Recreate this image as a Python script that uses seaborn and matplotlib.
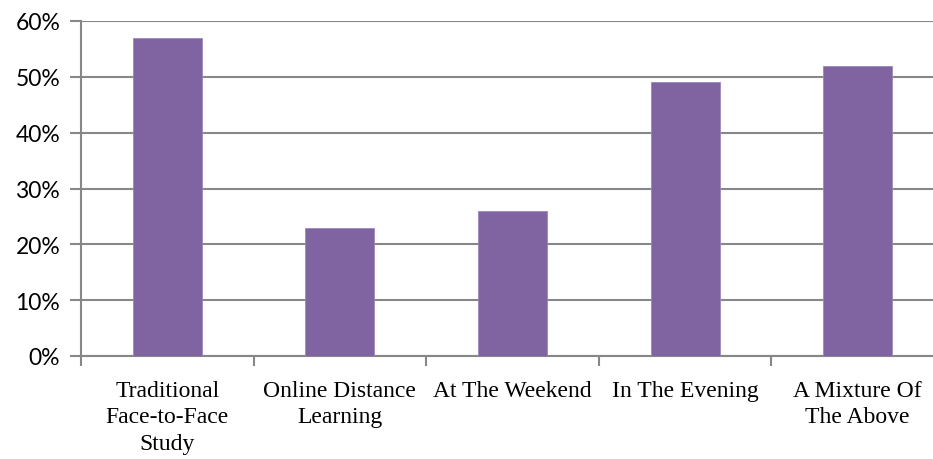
import matplotlib
matplotlib.use("Agg")
import matplotlib.pyplot as plt
import seaborn as sns
import pandas as pd
import numpy as np
from matplotlib.ticker import PercentFormatter, FixedLocator

categories = ["Traditional\nFace-to-Face\nStudy", "Online Distance\nLearning",
              "At The Weekend", "In The Evening", "A Mixture Of\nThe Above"]
values = [57, 23, 26, 49, 52]
yticks = [0, 10, 20, 30, 40, 50, 60]

df = pd.DataFrame({"category": categories, "value": values})

sns.set_style("white")
plt.rcParams["font.family"] = ["Lato", "DejaVu Sans"]

fig = plt.figure(figsize=(9.33, 4.6), dpi=100)
ax = fig.add_axes([81 / 933, 1 - 357 / 460, 863 / 933, 335 / 460])

sns.barplot(data=df, x="category", y="value", color="#8064A2", saturation=1,
            width=0.4, edgecolor="#9c88bb", linewidth=0.6, ax=ax, zorder=3)

ax.set_xlim(-0.5, len(categories) - 0.5)
ax.set_ylim(0, 60)
ax.set_yticks(yticks)
ax.yaxis.set_major_formatter(PercentFormatter(decimals=0))
ax.grid(axis="y", color="#878787", linewidth=1.5, zorder=0)
ax.set_axisbelow(True)

for s in ["top", "right"]:
    ax.spines[s].set_visible(False)
for s in ["left", "bottom"]:
    ax.spines[s].set_color("#878787")
    ax.spines[s].set_linewidth(1.5)

ax.tick_params(axis="y", direction="out", length=8, width=1.5, color="#878787",
               labelsize=16.5, pad=7, left=True, labelcolor="black")
ax.tick_params(axis="x", which="major", length=0, labelsize=17, pad=17,
               labelcolor="black")
ax.xaxis.set_minor_locator(FixedLocator(np.arange(-0.5, len(categories), 1)))
ax.tick_params(axis="x", which="minor", direction="out", length=7, width=1.5,
               color="#878787", bottom=True)
for lab in ax.get_xticklabels():
    lab.set_family(["Liberation Serif", "DejaVu Serif"])
    lab.set_linespacing(1.35)
    lab.set_verticalalignment("top")

ax.set_xlabel("")
ax.set_ylabel("")

fig.savefig("out.png", dpi=100)
